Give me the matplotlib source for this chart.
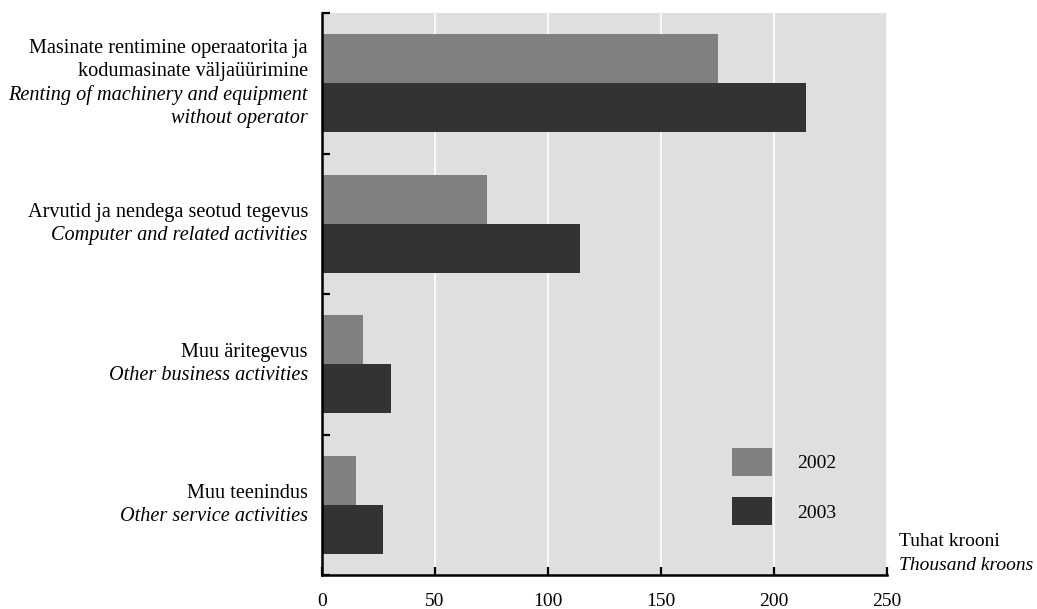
import matplotlib
matplotlib.use("Agg")
import matplotlib.pyplot as plt
import numpy as np

plt.rcParams['font.family'] = ['Liberation Serif', 'DejaVu Serif']

# ---- data ----
cat_et = ["Masinate rentimine operaatorita ja\nkodumasinate väljaüürimine",
          "Arvutid ja nendega seotud tegevus",
          "Muu äritegevus",
          "Muu teenindus"]
cat_en = ["Renting of machinery and equipment\nwithout operator",
          "Computer and related activities",
          "Other business activities",
          "Other service activities"]
years = ["2002", "2003"]
vals_2002 = [175, 73, 18, 15]
vals_2003 = [214, 114, 30.5, 27]
x_ticks = [0, 50, 100, 150, 200, 250]
unit_et = "Tuhat krooni"
unit_en = "Thousand kroons"

W, H = 1037, 609
fig = plt.figure(figsize=(W / 100, H / 100), dpi=100)
ax = fig.add_axes([322 / W, 1 - 575 / H, (887 - 322) / W, (575 - 13) / H])
ax.set_facecolor('#dfdfdf')

y = np.arange(len(cat_et))
bh = 0.35
ax.barh(y - bh / 2, vals_2002, height=bh, color='#808080', label=years[0], zorder=3)
ax.barh(y + bh / 2, vals_2003, height=bh, color='#333333', label=years[1], zorder=3)

ax.set_xlim(0, 250)
ax.set_ylim(len(cat_et) - 0.5, -0.5)
ax.set_xticks(x_ticks)
ax.set_xticklabels([str(t) for t in x_ticks], fontsize=14)
ax.set_yticks(np.arange(len(cat_et) + 1) - 0.5)
ax.set_yticklabels([])
ax.tick_params(axis='x', direction='in', length=6, width=1.6, pad=13, colors='black')
ax.tick_params(axis='y', direction='in', length=6, width=1.6, colors='black')
for t in ax.xaxis.get_major_ticks():
    t.tick2line.set_visible(False)

ax.grid(axis='x', color='white', linewidth=1.2, zorder=1)
ax.set_axisbelow(True)
for s in ['top', 'right']:
    ax.spines[s].set_visible(False)
for s in ['left', 'bottom']:
    ax.spines[s].set_linewidth(1.8)
    ax.spines[s].set_zorder(5)

line_px = 23.5
for i in range(len(cat_et)):
    lines = [(l, 'normal') for l in cat_et[i].split('\n')] + \
            [(l, 'italic') for l in cat_en[i].split('\n')]
    n = len(lines)
    for j, (txt, st) in enumerate(lines):
        off = -((j - (n - 1) / 2) * line_px) * 0.72
        ax.annotate(txt, xy=(0, i), xycoords=('axes fraction', 'data'),
                    xytext=(-14 * 0.72, off), textcoords='offset points',
                    ha='right', va='center', fontsize=14.6, style=st)

fs = 14
fpx = fs * 100 / 72
leg = ax.legend(loc='upper left', bbox_to_anchor=(732 / W, 1 - 448 / H),
                bbox_transform=fig.transFigure, frameon=False, fontsize=fs,
                handlelength=40 / fpx, handleheight=30 / fpx + 0.3,
                labelspacing=(22 + 5) / fpx - 0.3, handletextpad=25 / fpx,
                borderpad=0, borderaxespad=0)

fig.text(899 / W, 1 - 542 / H, unit_et, ha='left', va='center', fontsize=14)
fig.text(899 / W, 1 - 565 / H, unit_en, ha='left', va='center', fontsize=14, style='italic')

fig.savefig('out.png', dpi=100)
